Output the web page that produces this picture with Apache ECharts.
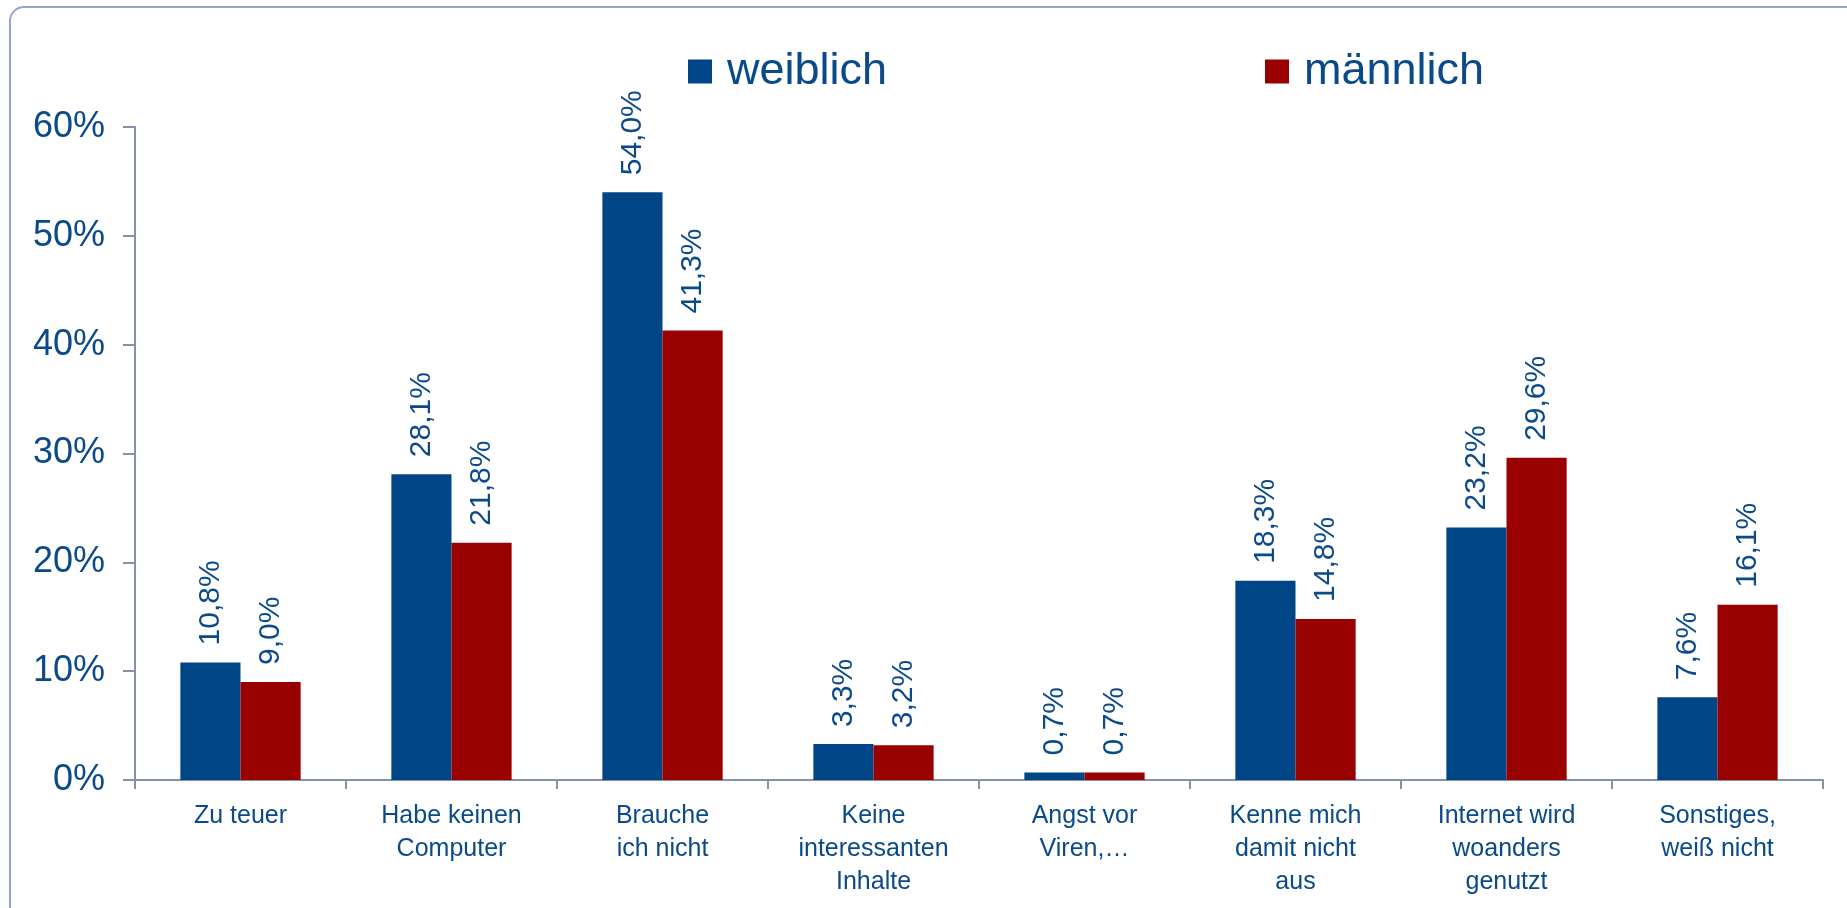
<!DOCTYPE html>
<html>
<head>
<meta charset="utf-8">
<script src="https://cdn.jsdelivr.net/npm/echarts@6/dist/echarts.min.js"></script>
<style>
  html, body { margin: 0; padding: 0; background: #fff; }
  #chart-box { width: 1847px; height: 908px; }
</style>
</head>
<body>
<div id="chart-box"></div>
<script>
const categories = [
  "Zu teuer",
  "Habe keinen\nComputer",
  "Brauche\nich nicht",
  "Keine\ninteressanten\nInhalte",
  "Angst vor\nViren,…",
  "Kenne mich\ndamit nicht\naus",
  "Internet wird\nwoanders\ngenutzt",
  "Sonstiges,\nweiß nicht",
];
const weiblich = [10.8, 28.1, 54.0, 3.3, 0.7, 18.3, 23.2, 7.6];
const maennlich = [9.0, 21.8, 41.3, 3.2, 0.7, 14.8, 29.6, 16.1];
const seriesNames = ["weiblich", "männlich"];

const textBlue = "#0a4a8a";
const axisGrey = "#8790ad";

const chart = echarts.init(document.getElementById("chart-box"));

function fmt(p) {
  return p.value.toFixed(1).replace(".", ",") + "%";
}

const labelStyle = {
  show: true,
  position: "top",
  rotate: 90,
  align: "left",
  verticalAlign: "middle",
  distance: 17,
  color: textBlue,
  fontFamily: "Liberation Sans",
  fontSize: 30,
  formatter: fmt,
};

// two legends so each item sits where it does in the original
const legendBase = {
  top: 44,
  itemWidth: 24,
  itemHeight: 24,
  icon: "rect",
  textStyle: {
    color: textBlue,
    fontFamily: "Liberation Sans",
    fontSize: 45,
    padding: [0, 0, 0, 10],
  },
};

const option = {
  animation: false,
  backgroundColor: "#fff",
  graphic: [
    {
      type: "rect",
      shape: { x: 10, y: 7, width: 1880, height: 940, r: 14 },
      style: { fill: "none", stroke: "#9aa3cc", lineWidth: 2 },
      z: -1,
    },
  ],
  legend: [
    Object.assign({}, legendBase, { left: 683, data: [seriesNames[0]] }),
    Object.assign({}, legendBase, { left: 1260, data: [seriesNames[1]] }),
  ],
  grid: {
    left: 135,
    right: 24,
    top: 127,
    bottom: 128,
  },
  xAxis: {
    type: "category",
    data: categories,
    axisLine: { lineStyle: { color: axisGrey, width: 2 } },
    axisTick: { show: true, length: 9, lineStyle: { color: axisGrey, width: 2 } },
    axisLabel: {
      color: textBlue,
      fontFamily: "Liberation Sans",
      fontSize: 25,
      lineHeight: 33,
      margin: 20,
      interval: 0,
    },
  },
  yAxis: {
    type: "value",
    min: 0,
    max: 60,
    interval: 10,
    splitLine: { show: false },
    axisLine: { show: true, lineStyle: { color: axisGrey, width: 2 } },
    axisTick: { show: true, length: 12, lineStyle: { color: axisGrey, width: 2 } },
    axisLabel: {
      color: textBlue,
      fontFamily: "Liberation Sans",
      fontSize: 36,
      margin: 30,
      formatter: "{value}%",
    },
  },
  series: [
    {
      name: seriesNames[0],
      type: "bar",
      data: weiblich,
      barGap: "0%",
      barCategoryGap: "43%",
      itemStyle: { color: "#004586" },
      label: labelStyle,
    },
    {
      name: seriesNames[1],
      type: "bar",
      data: maennlich,
      itemStyle: { color: "#990000" },
      label: labelStyle,
    },
  ],
};

chart.setOption(option);
</script>
</body>
</html>
